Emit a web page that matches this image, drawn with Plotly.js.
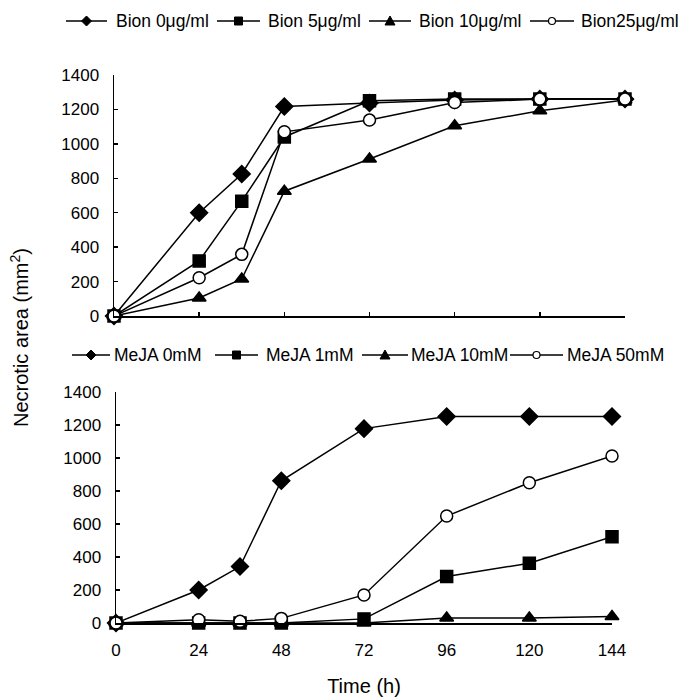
<!DOCTYPE html>
<html>
<head>
<meta charset="utf-8">
<script src="https://cdn.plot.ly/plotly-3.0.1.min.js"></script>
<style>html,body{margin:0;padding:0;background:#fff;}#chart{width:679px;height:698px;}</style>
</head>
<body>
<div id="chart"></div>
<script>
// Time points (h)
var timeH = [0, 24, 36, 48, 72, 96, 120, 144];
var xTickVals = [0, 24, 48, 72, 96, 120, 144];
var xTickText = ["0", "24", "48", "72", "96", "120", "144"];

// Top panel: Bion treatments
var bionNames = ["Bion 0μg/ml", "Bion 5μg/ml", "Bion 10μg/ml", "Bion25μg/ml"];
var bion0  = [0, 600, 825, 1217, 1237, 1255, 1260, 1260];
var bion5  = [0, 320, 667, 1040, 1250, 1260, 1260, 1260];
var bion10 = [0, 105, 215, 725, 912, 1105, 1192, 1255];
var bion25 = [0, 222, 358, 1070, 1138, 1240, 1260, 1260];

// Bottom panel: MeJA treatments
var mejaNames = ["MeJA 0mM", "MeJA 1mM", "MeJA 10mM", "MeJA 50mM"];
var meja0  = [0, 200, 342, 862, 1178, 1252, 1252, 1252];
var meja1  = [0, 0, 0, 0, 25, 282, 362, 523];
var meja10 = [0, 0, 0, 0, 0, 30, 30, 40];
var meja50 = [0, 20, 10, 28, 170, 648, 850, 1012];

var symbols = ["diamond", "square", "triangle-up", "circle"];
var sizes = [13, 12, 12, 12];
var fills = ["#000", "#000", "#000", "#fff"];

function mk(x, y, name, i, xa, ya) {
  return {
    x: x, y: y, name: name, type: "scatter", mode: "lines+markers",
    xaxis: xa, yaxis: ya, showlegend: false, cliponaxis: false,
    line: {color: "#000", width: 1.5},
    marker: {symbol: symbols[i], size: sizes[i], color: fills[i], line: {color: "#000", width: 1.5}}
  };
}

var bionSeries = [bion0, bion5, bion10, bion25];
var mejaSeries = [meja0, meja1, meja10, meja50];
var traces = [];
bionSeries.forEach(function(s, i){ traces.push(mk(timeH, s, bionNames[i], i, "x", "y")); });
mejaSeries.forEach(function(s, i){ traces.push(mk(timeH, s, mejaNames[i], i, "x2", "y2")); });

var W = 679, H = 698;
var fam = "Liberation Sans, Arial, sans-serif";
var tickFont = {family: fam, size: 17, color: "#000"};
var legFont = {family: fam, size: 17.5, color: "#000"};
var titleFont = {family: fam, size: 20, color: "#000"};

// ---- hand-built legends (layout decoration, pixel -> paper) ----
function px(x){ return x / W; }
function py(y){ return 1 - y / H; }
var shapes = [], annotations = [];
function legendRow(names, yPix, lineStarts, lineEnds, textStarts) {
  names.forEach(function(n, i){
    var x0 = lineStarts[i], x1 = lineEnds[i], cx = (x0 + x1) / 2, cy = yPix;
    shapes.push({type: "line", xref: "paper", yref: "paper", x0: px(x0), x1: px(x1), y0: py(cy), y1: py(cy),
                 line: {color: "#000", width: 1.5}});
    var sym = symbols[i];
    if (sym === "diamond") {
      var r = 5;
      shapes.push({type: "path", xref: "paper", yref: "paper",
        path: "M" + px(cx) + "," + py(cy - r) + " L" + px(cx + r) + "," + py(cy) + " L" + px(cx) + "," + py(cy + r) + " L" + px(cx - r) + "," + py(cy) + " Z",
        fillcolor: "#000", line: {color: "#000", width: 1}});
    } else if (sym === "square") {
      var s = 4;
      shapes.push({type: "rect", xref: "paper", yref: "paper", x0: px(cx - s), x1: px(cx + s), y0: py(cy - s), y1: py(cy + s),
        fillcolor: "#000", line: {color: "#000", width: 1}});
    } else if (sym === "triangle-up") {
      var t = 5;
      shapes.push({type: "path", xref: "paper", yref: "paper",
        path: "M" + px(cx) + "," + py(cy - t) + " L" + px(cx + t) + "," + py(cy + t - 1) + " L" + px(cx - t) + "," + py(cy + t - 1) + " Z",
        fillcolor: "#000", line: {color: "#000", width: 1}});
    } else {
      var c = 3.5;
      shapes.push({type: "circle", xref: "paper", yref: "paper", x0: px(cx - c), x1: px(cx + c), y0: py(cy - c), y1: py(cy + c),
        fillcolor: "#fff", line: {color: "#000", width: 1.2}});
    }
    annotations.push({text: n, showarrow: false, xref: "paper", yref: "paper",
      x: px(textStarts[i]), y: py(cy), xanchor: "left", yanchor: "middle", font: legFont,
      borderpad: 0});
  });
}
legendRow(bionNames, 21, [66, 217, 369, 530], [107, 260, 411, 574], [115, 267, 418, 580]);
legendRow(mejaNames, 355, [72, 215, 362, 510], [110, 258, 408, 563], [113, 265, 410, 566]);

annotations.push({
  text: "Necrotic area (mm<sup>2</sup>)", textangle: -90, showarrow: false,
  xref: "paper", yref: "paper", x: 20/W, y: 1 - 338/H, xanchor: "center", yanchor: "middle",
  font: titleFont
});

var yax = {
  range: [0, 1400], dtick: 200, ticks: "inside", ticklen: 4, tickwidth: 1.5, tickcolor: "#000",
  showline: true, linecolor: "#000", linewidth: 1.5, showgrid: false, zeroline: false,
  ticklabelstandoff: 10, tickfont: tickFont
};

var layout = {
  width: W, height: H,
  margin: {l: 0, r: 0, t: 0, b: 0},
  paper_bgcolor: "#fff", plot_bgcolor: "#fff",
  font: tickFont,
  showlegend: false,
  xaxis: {
    domain: [114/W, 625/W], range: [0, 144], anchor: "y",
    tickvals: [24, 48, 72, 96, 120, 144], showticklabels: false,
    ticks: "inside", ticklen: 4, tickwidth: 1.5, tickcolor: "#000",
    showline: true, linecolor: "#000", linewidth: 1.5, showgrid: false, zeroline: false
  },
  yaxis: Object.assign({}, yax, {domain: [(H-316)/H, (H-75)/H], anchor: "x"}),
  xaxis2: {
    domain: [116/W, 612/W], range: [0, 144], anchor: "y2",
    tickvals: xTickVals, ticktext: xTickText, ticks: "",
    showline: true, linecolor: "#000", linewidth: 1.5, showgrid: false, zeroline: false,
    ticklabelstandoff: 11, tickfont: tickFont,
    title: {text: "Time (h)", font: titleFont, standoff: 20}
  },
  yaxis2: Object.assign({}, yax, {domain: [(H-623)/H, (H-392)/H], anchor: "x2"}),
  shapes: shapes,
  annotations: annotations
};

Plotly.newPlot("chart", traces, layout, {displayModeBar: false, staticPlot: true});
</script>
</body>
</html>
